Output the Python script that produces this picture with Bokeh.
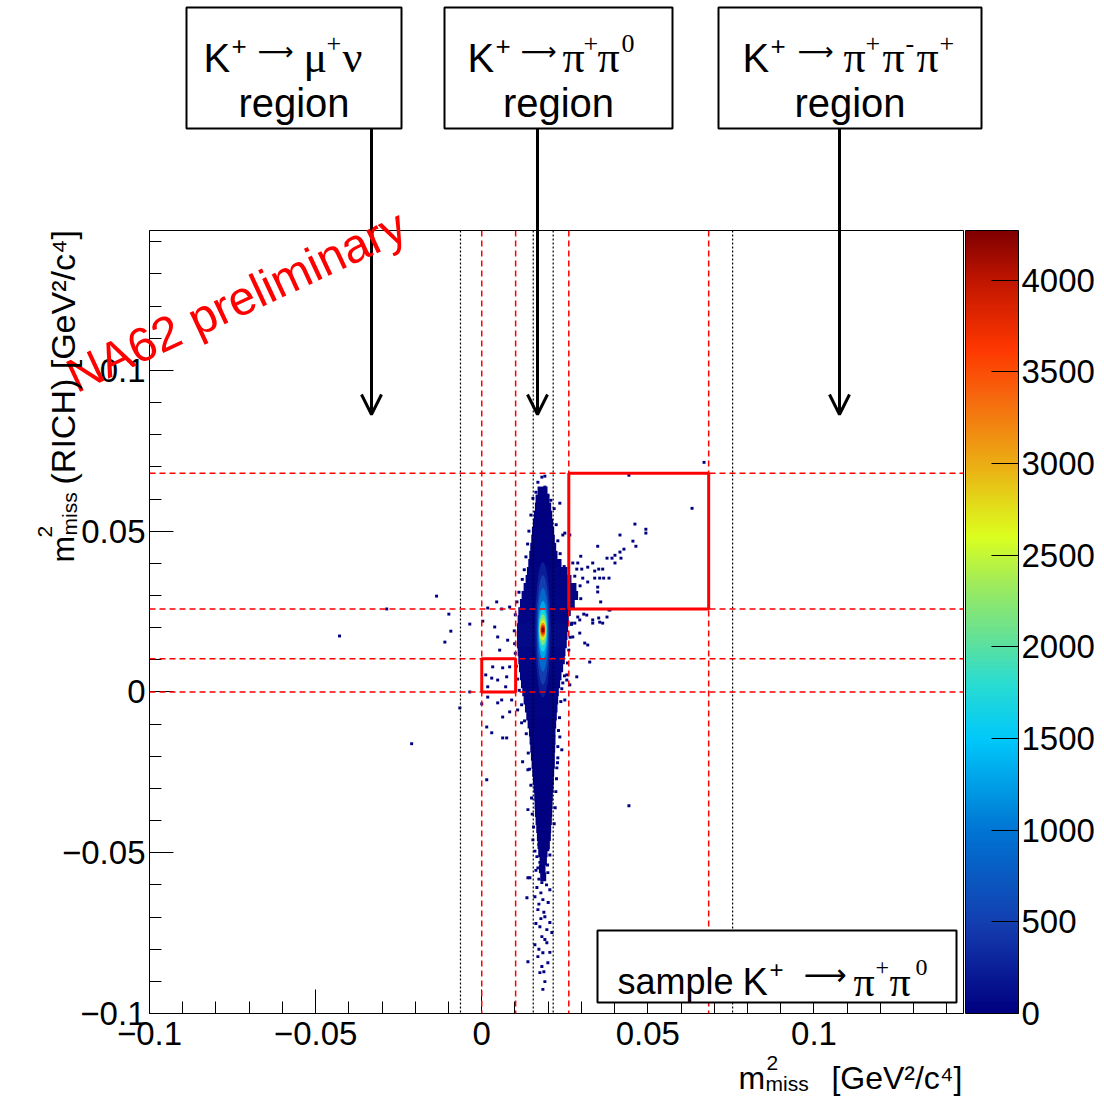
import math
from bokeh.plotting import figure
from bokeh.layouts import column
from bokeh.models import (ColumnDataSource, LinearColorMapper, ColorBar, FixedTicker,
                          Span, BoxAnnotation, Label, Arrow, OpenHead, CustomJSTickFormatter)
from bokeh.embed import file_html
from bokeh.resources import INLINE

# ---------------- data ----------------
X_RANGE = (-0.1, 0.145)
Y_RANGE = (-0.1, 0.1435)
x_major_ticks = [-0.1, -0.05, 0.0, 0.05, 0.1]
x_minor_ticks = [-0.09, -0.08, -0.07, -0.06, -0.04, -0.03, -0.02, -0.01, 0.01, 0.02,
                 0.03, 0.04, 0.06, 0.07, 0.08, 0.09, 0.11, 0.12, 0.13, 0.14]
y_major_ticks = [-0.1, -0.05, 0.0, 0.05, 0.1]
y_minor_ticks = [-0.09, -0.08, -0.07, -0.06, -0.04, -0.03, -0.02, -0.01, 0.01, 0.02,
                 0.03, 0.04, 0.06, 0.07, 0.08, 0.09, 0.11, 0.12, 0.13, 0.14]
colorbar_ticks = [0, 500, 1000, 1500, 2000, 2500, 3000, 3500, 4000]
z_max = 4270

# signal-region cuts
red_cut_x = [0.0, 0.0102, 0.0262, 0.0683]
red_cut_y = [0.0, 0.0103, 0.0258, 0.068]
black_cut_x = [-0.0064, 0.0155, 0.0215, 0.0755]
region1 = (0.0, 0.0102, 0.0, 0.0103)
region2 = (0.0262, 0.0683, 0.0258, 0.068)

# dense band of the 2D histogram (row centre, x-extent, counts)
band_dy = 0.0025
band_y = [0.0625, 0.0600, 0.0575, 0.0550, 0.0525, 0.0500, 0.0475, 0.0450, 0.0425, 0.0400,
          0.0375, 0.0350, 0.0325, 0.0300, 0.0275, 0.0250, 0.0225, 0.0200, 0.0175, 0.0150,
          0.0125, 0.0100, 0.0075, 0.0050, 0.0025, 0.0000, -0.0025, -0.0050, -0.0075, -0.0100,
          -0.0125, -0.0150, -0.0175, -0.0200, -0.0225, -0.0250, -0.0275, -0.0300, -0.0325, -0.0350,
          -0.0375, -0.0400, -0.0425, -0.0450, -0.0475, -0.0500, -0.0525, -0.0550, -0.0575]
band_xlo = [0.0168, 0.0162, 0.0160, 0.0157, 0.0154, 0.0151, 0.0149, 0.0146, 0.0143, 0.0140,
            0.0136, 0.0132, 0.0126, 0.0120, 0.0115, 0.0110, 0.0108, 0.0106, 0.0106, 0.0106,
            0.0108, 0.0110, 0.0112, 0.0115, 0.0118, 0.0122, 0.0126, 0.0130, 0.0134, 0.0138,
            0.0142, 0.0144, 0.0146, 0.0148, 0.0150, 0.0152, 0.0154, 0.0156, 0.0158, 0.0159,
            0.0160, 0.0162, 0.0164, 0.0166, 0.0168, 0.0170, 0.0174, 0.0172, 0.0176]
band_xhi = [0.0198, 0.0204, 0.0209, 0.0212, 0.0215, 0.0218, 0.0220, 0.0224, 0.0228, 0.0240,
            0.0258, 0.0270, 0.0285, 0.0290, 0.0280, 0.0268, 0.0262, 0.0260, 0.0258, 0.0256,
            0.0252, 0.0250, 0.0245, 0.0240, 0.0236, 0.0232, 0.0230, 0.0228, 0.0226, 0.0224,
            0.0222, 0.0222, 0.0221, 0.0220, 0.0220, 0.0218, 0.0217, 0.0216, 0.0214, 0.0213,
            0.0212, 0.0211, 0.0209, 0.0208, 0.0205, 0.0198, 0.0196, 0.0192, 0.0194]
band_count = [5, 8, 10, 12, 15, 18, 20, 24, 28, 32,
              36, 40, 45, 50, 55, 60, 65, 70, 70, 70,
              65, 60, 55, 50, 45, 40, 38, 36, 34, 32,
              30, 28, 26, 24, 22, 20, 18, 16, 14, 12,
              11, 10, 9, 8, 6, 5, 4, 3, 3]

# peak of the distribution (nested contours: count, width, height)
core_x = [0.0184, 0.0184, 0.0184, 0.0184, 0.0184, 0.0184, 0.0184, 0.0184, 0.0184, 0.0184]
core_y = [0.0193, 0.0193, 0.0193, 0.0193, 0.0193, 0.0193, 0.0193, 0.0193, 0.0193, 0.0193]
core_count = [250, 500, 900, 1300, 1700, 2200, 2700, 3200, 3700, 4200]
core_w = [0.0046, 0.0038, 0.0032, 0.0028, 0.0025, 0.0022, 0.0019, 0.0016, 0.0013, 0.0010]
core_h = [0.042, 0.034, 0.026, 0.018, 0.0135, 0.0095, 0.0065, 0.0045, 0.0030, 0.0018]

# isolated / sparse filled bins
cell_x = [-0.0286, -0.0136, -0.0428, -0.0099, -0.0093, -0.0111, -0.0036, -0.0066, -0.0211, 0.0,
          0.0015, 0.003, 0.0015, 0.0443, 0.0669, 0.0443, 0.0633,
          0.0461, 0.0494, 0.0494, 0.0416, 0.0455, 0.0464, 0.0428, 0.0416, 0.0401, 0.0377,
          0.0392, 0.0419, 0.0401, 0.0334, 0.0298, 0.0349, 0.0364, 0.0352, 0.034, 0.0319,
          0.0301, 0.0286, 0.0289, 0.0274, 0.0383, 0.0367, 0.0355, 0.034, 0.0319, 0.0304,
          0.0349, 0.0349, 0.0358, 0.0383, 0.0352, 0.0364, 0.0334, 0.0307, 0.0295, 0.028,
          0.0265, 0.0244, 0.0235,
          -0.0036, 0.0003, 0.0018, 0.0045, 0.006, 0.0084, 0.0039, 0.0048, 0.0054, 0.0078,
          0.0033, 0.003, 0.0048, 0.0075, 0.0063, 0.0084, 0.0072, 0.0018, 0.0012, 0.0018,
          0.006, 0.0084, 0.0063,
          0.0271, 0.0289, 0.0316, 0.0334, 0.0355, 0.0377, 0.0386, 0.0274, 0.0295, 0.031,
          0.0319, 0.0325, 0.0286, 0.0256, 0.0244, 0.025, 0.0235,
          0.0048, 0.0063, 0.0075, 0.009, 0.0108, 0.012, 0.0123, 0.0139, 0.0139, 0.0235,
          0.0241, 0.025, 0.0256, 0.0265, 0.0226, 0.0229,
          0.0154, 0.0181, 0.0199, 0.0166, 0.019, 0.0145, 0.0169, 0.0199, 0.0181, 0.0205,
          0.016, 0.0184, 0.0169, 0.019, 0.0205, 0.0175, 0.0196, 0.0181, 0.016, 0.0196,
          0.0211, 0.0184, 0.0169, 0.0199, 0.0181, 0.0175, 0.019, 0.0184, 0.0139, 0.0136,
          0.0139, 0.0172, 0.0193, 0.0160, 0.0187, 0.0205, 0.0175, 0.0198, 0.0163, 0.0186,
          0.0172, 0.0195, 0.0166, 0.0178, 0.0200, 0.0172, 0.0187, 0.0178, 0.0163, 0.0190,
          0.0172, 0.0205, 0.0187,
          0.0181, 0.0169, 0.019, 0.0163, 0.0199, 0.0154, 0.0208, 0.019,
          # ragged left edge of the band
          0.0148, 0.0142, 0.0138, 0.0133, 0.0128, 0.0122, 0.0112, 0.0106, 0.0101, 0.0098,
          0.0099, 0.0101, 0.0104, 0.0108, 0.0113, 0.0120, 0.0129, 0.0134, 0.0140, 0.0144,
          0.0148, 0.0150, 0.0152, 0.0156,
          # ragged right edge of the band
          0.0218, 0.0224, 0.0229, 0.0236, 0.0248, 0.0280, 0.0296, 0.0298, 0.0276, 0.0270,
          0.0266, 0.0262, 0.0258, 0.0249, 0.0241, 0.0238, 0.0234, 0.0231, 0.0229, 0.0228,
          0.0225, 0.0223, 0.0221, 0.0218]
cell_y = [0.0258, 0.0298, 0.0174, 0.0242, 0.0189, 0.0155, 0.0, -0.005, -0.0161, -0.0037,
          -0.0109, -0.0127, -0.0273, -0.0354, 0.0714, 0.0674, 0.0571,
          0.0522, 0.0506, 0.0494, 0.0488, 0.0469, 0.0453, 0.0444, 0.0435, 0.0425, 0.0416,
          0.0416, 0.0416, 0.0401, 0.0401, 0.0422, 0.0453, 0.0382, 0.0382, 0.0376, 0.0388,
          0.0382, 0.0382, 0.0401, 0.0401, 0.0354, 0.0354, 0.0354, 0.0354, 0.0342, 0.0354,
          0.0326, 0.0311, 0.028, 0.0255, 0.023, 0.0214, 0.0214, 0.0242, 0.0224, 0.0214,
          0.0488, 0.0488, 0.0587,
          0.0211, 0.022, 0.0261, 0.028, 0.0258, 0.0264, 0.0202, 0.0171, 0.013, 0.0161,
          0.0078, 0.0043, 0.0037, 0.0047, 0.0075, 0.0078, 0.0016, 0.0016, 0.0053, -0.0016,
          -0.0025, -0.0062, -0.0143,
          0.0214, 0.0233, 0.0239, 0.0224, 0.0217, 0.0233, 0.0255, 0.0171, 0.0183, 0.0152,
          0.0146, 0.0093, 0.0047, 0.0037, 0.0028, 0.0494, 0.037,
          -0.0034, -0.0078, -0.0143, -0.0025, -0.0056, -0.0096, -0.0217, -0.0242, -0.0366, -0.014,
          -0.018, -0.0025, 0.0053, 0.0022, -0.0236, -0.0205,
          -0.046, -0.0469, -0.0491, -0.0512, -0.0522, -0.0578, -0.0547, -0.0562, -0.0593, -0.0615,
          -0.0637, -0.0646, -0.0677, -0.0699, -0.0717, -0.073, -0.0739, -0.0761, -0.0786, -0.078,
          -0.0748, -0.0811, -0.0823, -0.0842, -0.0854, -0.0873, -0.0901, -0.0925, -0.0839, -0.064,
          -0.0578, -0.0475, -0.0485, -0.0495, -0.0503, -0.0507, -0.0530, -0.0538, -0.0555, -0.0568,
          -0.0582, -0.0600, -0.0608, -0.0625, -0.0655, -0.0660, -0.0685, -0.0705, -0.0720, -0.0770,
          -0.0800, -0.0810, -0.0870,
          0.0668, 0.0652, 0.0637, 0.0621, 0.0612, 0.0602, 0.0596, 0.0671,
          0.055, 0.050, 0.046, 0.042, 0.038, 0.035, 0.031, 0.028, 0.024, 0.019,
          0.015, 0.012, 0.008, 0.004, 0.0005, -0.004, -0.009, -0.013, -0.019, -0.024,
          -0.029, -0.033, -0.038, -0.042,
          0.057, 0.052, 0.047, 0.043, 0.039, 0.036, 0.033, 0.029, 0.026, 0.021,
          0.017, 0.013, 0.009, 0.005, 0.001, -0.003, -0.008, -0.012, -0.017, -0.022,
          -0.027, -0.031, -0.036, -0.041]
cell_count = [3] * len(cell_x)
cell_size = 0.0009

# ---------------- style helpers ----------------
SANS = "Liberation Sans"
SERIF = "Liberation Serif"
ARROWF = "DejaVu Sans"

stops = [(0.00, (0, 0, 128)), (0.11, (20, 60, 175)), (0.23, (0, 115, 210)), (0.35, (0, 200, 250)),
         (0.42, (40, 220, 210)), (0.48, (100, 225, 150)), (0.55, (160, 235, 90)),
         (0.61, (220, 255, 30)), (0.70, (235, 175, 20)), (0.78, (245, 110, 15)),
         (0.85, (255, 55, 0)), (0.94, (190, 20, 0)), (1.00, (128, 0, 0))]
palette = []
for i in range(256):
    t = i / 255
    for (t0, c0), (t1, c1) in zip(stops[:-1], stops[1:]):
        if t0 <= t <= t1:
            f = (t - t0) / (t1 - t0)
            palette.append("#%02x%02x%02x" % tuple(round(a + (b - a) * f) for a, b in zip(c0, c1)))
            break
mapper = LinearColorMapper(palette=palette, low=0, high=z_max)

W, H = 1104, 1097
F_L, F_R, F_T, F_B = 149, 963, 230, 1013      # frame in page pixels
def ax_(px):
    return X_RANGE[0] + (px - F_L) * (X_RANGE[1] - X_RANGE[0]) / (F_R - F_L)
def ay_(py):
    return Y_RANGE[0] + (F_B - py) * (Y_RANGE[1] - Y_RANGE[0]) / (F_B - F_T)

# ---------------- main plot ----------------
p = figure(width=W, height=H, x_range=X_RANGE, y_range=Y_RANGE,
           output_backend="svg", toolbar_location=None,
           min_border_left=F_L, min_border_right=W - F_R,
           min_border_top=F_T, min_border_bottom=H - F_B)
p.frame_align = False
p.xgrid.visible = False
p.ygrid.visible = False
p.outline_line_color = "black"
p.outline_line_width = 1
p.background_fill_color = "white"
p.border_fill_color = "white"

fmt_code = "return tick < 0 ? '\\u2212' + String(-tick) : String(tick);"
p.xaxis.ticker = FixedTicker(ticks=x_major_ticks, minor_ticks=x_minor_ticks)
p.yaxis.ticker = FixedTicker(ticks=y_major_ticks, minor_ticks=y_minor_ticks)
for axis in (p.xaxis[0], p.yaxis[0]):
    axis.formatter = CustomJSTickFormatter(code=fmt_code)
    axis.major_tick_in = 24
    axis.major_tick_out = 0
    axis.minor_tick_in = 12
    axis.minor_tick_out = 0
    axis.major_tick_line_color = "black"
    axis.minor_tick_line_color = "black"
    axis.axis_line_color = "black"
    axis.major_label_text_font = SANS
    axis.major_label_text_font_size = "33px"
    axis.major_label_text_color = "black"
p.xaxis.major_label_standoff = 8
p.yaxis.major_label_standoff = 4

band_src = ColumnDataSource(dict(
    left=band_xlo, right=band_xhi,
    bottom=[y - 0.55 * band_dy for y in band_y], top=[y + 0.55 * band_dy for y in band_y],
    count=band_count))
p.quad(left="left", right="right", bottom="bottom", top="top", source=band_src,
       fill_color={"field": "count", "transform": mapper}, line_color=None)

cell_src = ColumnDataSource(dict(x=cell_x, y=cell_y, count=cell_count))
p.rect(x="x", y="y", width=cell_size, height=cell_size, source=cell_src,
       fill_color={"field": "count", "transform": mapper}, line_color=None)

core_src = ColumnDataSource(dict(x=core_x, y=core_y, w=core_w, h=core_h, count=core_count))
p.ellipse(x="x", y="y", width="w", height="h", source=core_src,
          fill_color={"field": "count", "transform": mapper}, line_color=None)

for xc in black_cut_x:
    p.add_layout(Span(location=xc, dimension="height", line_color="black",
                      line_dash="2 2", line_width=1.2))
for xc in red_cut_x:
    p.add_layout(Span(location=xc, dimension="height", line_color="red",
                      line_dash="6 4", line_width=1.5))
for yc in red_cut_y:
    p.add_layout(Span(location=yc, dimension="width", line_color="red",
                      line_dash="6 4", line_width=1.5))
for (l, r, b, t) in (region1, region2):
    p.add_layout(BoxAnnotation(left=l, right=r, bottom=b, top=t, fill_alpha=0,
                               line_color="red", line_width=3, line_alpha=1))

cbar = ColorBar(color_mapper=mapper, ticker=FixedTicker(ticks=colorbar_ticks),
                width=53, height=F_B - F_T, location=(2, 0), padding=0, margin=0,
                major_tick_in=27, major_tick_out=0, major_tick_line_color="black",
                minor_tick_line_color=None,
                major_label_text_font=SANS, major_label_text_font_size="33px",
                major_label_text_color="black", label_standoff=3,
                bar_line_color="black", bar_line_width=1,
                border_line_color=None, background_fill_color=None)
p.add_layout(cbar, "right")

# ---------------- transparent overlay for texts / boxes outside the frame ----------------
ov = figure(width=W, height=H, x_range=(ax_(0), ax_(W)), y_range=(ay_(H), ay_(0)),
            output_backend="svg", toolbar_location=None, min_border=0,
            x_axis_location=None, y_axis_location=None,
            background_fill_color=None, border_fill_color=None, outline_line_color=None,
            styles={"position": "absolute", "left": "0px", "top": "0px", "z-index": "5"})
ov.frame_align = False
ov.xgrid.visible = False
ov.ygrid.visible = False

def lab(px, py, text, font, size, angle=0.0, align="left", color="black"):
    ov.add_layout(Label(x=ax_(px), y=ay_(py), text=text, angle=angle, text_align=align,
                        text_baseline="alphabetic", text_font=font, text_font_size="%dpx" % size,
                        text_color=color))

def box(l, t, r, b, lw=2):
    ov.add_layout(BoxAnnotation(left=ax_(l), right=ax_(r), top=ay_(t), bottom=ay_(b),
                                fill_color="white", fill_alpha=1, line_color="black",
                                line_width=lw, line_alpha=1))

# three region boxes with arrows
for (bl, br, arrow_px) in ((186, 401, 371), (444, 672, 537), (718, 981, 839)):
    box(bl, 7, br, 128)
    lab((bl + br) / 2, 102, "region", SANS, 40, align="center")
    ov.add_layout(Arrow(x_start=ax_(arrow_px), y_start=ay_(128), x_end=ax_(arrow_px), y_end=ay_(414),
                        line_color="black", line_width=3,
                        end=OpenHead(size=20, line_width=3, line_color="black")))

BASE, SUP = 57, 43
pieces = [
    # K+ -> mu+ nu
    ("K", SANS, 40, 203, BASE), ("+", SANS, 26, 231, SUP + 2),
    ("\u27f6", ARROWF, 25, 257, BASE - 6),
    ("\u03bc", SERIF, 44, 303, BASE), ("+", SERIF, 26, 326, SUP), ("\u03bd", SERIF, 44, 342, BASE),
    # K+ -> pi+ pi0
    ("K", SANS, 40, 467, BASE), ("+", SANS, 26, 495, SUP + 2),
    ("\u27f6", ARROWF, 25, 520, BASE - 6),
    ("\u03c0", SERIF, 44, 562, BASE), ("+", SERIF, 26, 583, SUP), ("\u03c0", SERIF, 44, 597, BASE),
    ("0", SERIF, 26, 621, SUP),
    # K+ -> pi+ pi- pi+
    ("K", SANS, 40, 742, BASE), ("+", SANS, 26, 770, SUP + 2),
    ("\u27f6", ARROWF, 25, 797, BASE - 6),
    ("\u03c0", SERIF, 44, 843, BASE), ("+", SERIF, 26, 865, SUP), ("\u03c0", SERIF, 44, 882, BASE),
    ("-", SERIF, 26, 905, SUP), ("\u03c0", SERIF, 44, 916, BASE), ("+", SERIF, 26, 939, SUP),
]
for (txt, font, size, px, py) in pieces:
    lab(px, py, txt, font, size)

# sample box
box(597, 930, 956, 1002)
SB, SS = 981, 967
for (txt, font, size, px, py) in [
        ("sample", SANS, 36, 617, SB), ("K", SANS, 38, 742, SB), ("+", SANS, 24, 769, SS + 2),
        ("\u27f6", ARROWF, 30, 803, SB - 7),
        ("\u03c0", SERIF, 42, 853, SB), ("+", SERIF, 24, 875, SS), ("\u03c0", SERIF, 42, 889, SB),
        ("0", SERIF, 24, 915, SS)]:
    lab(px, py, txt, font, size)

# NA62 preliminary
lab(69, 378, "NA62 preliminary", SANS, 48, angle=math.radians(25), color="red")

# x axis title
lab(738, 1077, "m", SANS, 32)
lab(766, 1062, "2", SANS, 21)
lab(765, 1083, "miss", SANS, 21)
lab(962, 1077, "[GeV\u00b2/c\u2074]", SANS, 32, align="right")
# y axis title (rotated)
rot = math.pi / 2
lab(62, 562, "m", SANS, 32, rot)
lab(44, 537, "2", SANS, 21, rot)
lab(69, 535, "miss", SANS, 21, rot)
lab(62, 484, "(RICH) [GeV\u00b2/c\u2074]", SANS, 34, rot)

open("out.html", "w").write(file_html(column(p, ov), INLINE))
